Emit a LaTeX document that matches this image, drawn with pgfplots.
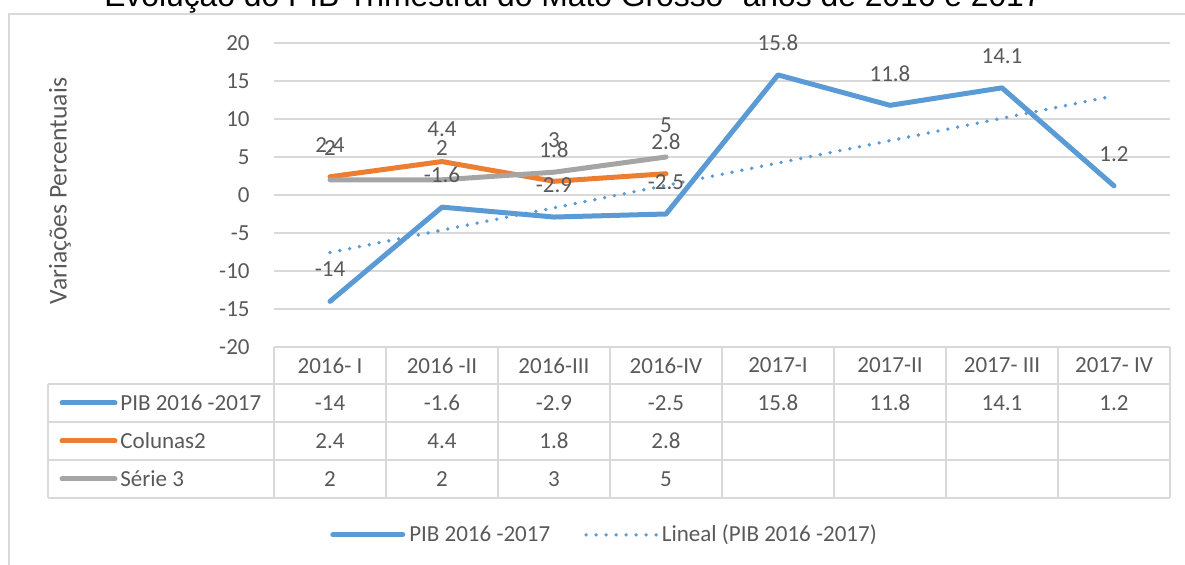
\documentclass[border=0pt]{standalone}
\usepackage{fontspec}
\setmainfont{Carlito}
\newfontfamily\titlefont{Liberation Sans}
\usepackage{pgfplots}
\usepackage{pgfplotstable}
\pgfplotsset{compat=1.18}

\definecolor{pib}{HTML}{5B9BD5}
\definecolor{col2}{HTML}{ED7D31}
\definecolor{ser3}{HTML}{A5A5A5}
\definecolor{txt}{HTML}{595959}
\definecolor{grd}{HTML}{D9D9D9}

\newcommand{\lbl}{\fontsize{11.5}{13.8}\selectfont}

% quarterly GDP change, Mato Grosso
\pgfplotstableread{
x y lab
0 -14 -14
1 -1.6 -1.6
2 -2.9 -2.9
3 -2.5 -2.5
4 15.8 15.8
5 11.8 11.8
6 14.1 14.1
7 1.2 1.2
}\tabpib
\pgfplotstableread{
x y lab
0 2.4 2.4
1 4.4 4.4
2 1.8 1.8
3 2.8 2.8
}\tabcol
\pgfplotstableread{
x y lab
0 2 2
1 2 2
2 3 3
3 5 5
}\tabser

\begin{document}
\begin{tikzpicture}
\useasboundingbox (0pt,0pt) rectangle (592.5pt,-282.5pt);

\begin{axis}[
  at={(137pt,-173.5pt)}, anchor=south west,
  scale only axis, width=448pt, height=152pt,
  xmin=-0.5, xmax=7.5, ymin=-20, ymax=20,
  clip=false,
  axis line style={draw=none},
  major tick length=0pt,
  xtick={0,...,7},
  xticklabels={2016- I,2016 -II,2016-III,2016-IV,2017-I,2017-II,2017- III,2017- IV},
  xticklabel style={anchor=center, yshift=-9.25pt, text=txt, font=\lbl},
  ytick={-20,-15,...,20},
  yticklabels={-20,-15,-10,-5,0,5,10,15,20},
  yticklabel style={anchor=east, inner sep=0pt, xshift=-12pt, text=txt, font=\lbl},
  ymajorgrids, grid style={grd, line width=0.75pt},
  every node near coord/.append style={anchor=center, yshift=16pt, text=txt, font=\lbl},
  legend style={at={(0.37,-0.618)}, anchor=center, legend columns=2,
                draw=none, fill=none, font=\lbl, text=txt,
                /tikz/every even column/.append style={column sep=15pt}},
  legend cell align=left,
  legend image code/.code={\draw[#1] (0pt,0pt) -- (35pt,0pt);},
]
\addplot[pib, line width=2.5pt, line join=round, line cap=round,
  nodes near coords, point meta=explicit symbolic]
  table[x=x, y=y, meta=lab] {\tabpib};
\addlegendentry{PIB 2016 -2017}
\addplot[col2, line width=2.5pt, line join=round, line cap=round, forget plot,
  nodes near coords, point meta=explicit symbolic]
  table[x=x, y=y, meta=lab] {\tabcol};
\addplot[ser3, line width=2.5pt, line join=round, line cap=round, forget plot,
  nodes near coords, point meta=explicit symbolic]
  table[x=x, y=y, meta=lab] {\tabser};
% linear trend of the PIB series
\addplot[pib, line width=1.9pt, line cap=round, dash pattern=on 0pt off 5pt]
  coordinates {(0,-7.57) (7,13.04)};
\addlegendentry{Lineal (PIB 2016 -2017)}
\end{axis}

\begin{scope}[x=0.5pt, y=-0.5pt]
  \draw[grd, line width=1pt] (9,565) -- (9,14) -- (1185,14);
  \node[anchor=base, inner sep=0pt, font=\titlefont\fontsize{15.9}{19}\selectfont]
    at (573,7) {Evolução do PIB Trimestral do Mato Grosso -anos de 2016 e 2017};
  \node[rotate=90, font=\fontsize{12.8}{15}\selectfont, text=txt] at (60,191) {Variações Percentuais};

  % data table under the plot
  \draw[grd, line width=0.75pt] (274,347) -- (1170,347);
  \foreach \yy in {384,422,460,498}
    \draw[grd, line width=0.75pt] (48,\yy) -- (1170,\yy);
  \draw[grd, line width=0.75pt] (48,384) -- (48,498);
  \foreach \k in {0,...,8}
    \draw[grd, line width=0.75pt] ({274+112*\k},347) -- ({274+112*\k},498);

  \draw[pib, line width=2.5pt, line cap=round] (62,403) -- (115,403);
  \node[anchor=west, inner sep=0pt, font=\lbl, text=txt] at (120,403) {PIB 2016 -2017};
  \draw[col2, line width=2.5pt, line cap=round] (62,441) -- (115,441);
  \node[anchor=west, inner sep=0pt, font=\lbl, text=txt] at (120,441) {Colunas2};
  \draw[ser3, line width=2.5pt, line cap=round] (62,479) -- (115,479);
  \node[anchor=west, inner sep=0pt, font=\lbl, text=txt] at (120,479) {Série 3};

  \foreach \v [count=\i from 0] in {-14,-1.6,-2.9,-2.5,15.8,11.8,14.1,1.2}
    \node[font=\lbl, text=txt] at ({330+112*\i},403) {\v};
  \foreach \v [count=\i from 0] in {2.4,4.4,1.8,2.8}
    \node[font=\lbl, text=txt] at ({330+112*\i},441) {\v};
  \foreach \v [count=\i from 0] in {2,2,3,5}
    \node[font=\lbl, text=txt] at ({330+112*\i},479) {\v};
\end{scope}
\end{tikzpicture}
\end{document}
